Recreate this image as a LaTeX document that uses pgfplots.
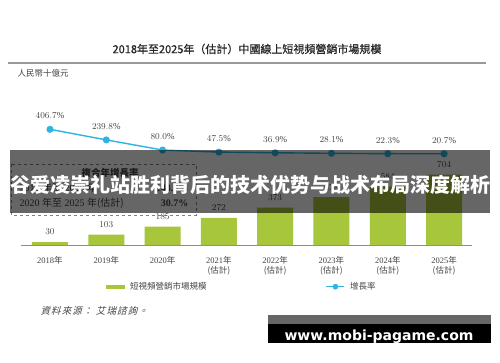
\documentclass[border=0pt]{standalone}
\usepackage{fontspec}
\setmainfont{Liberation Serif}
\newfontfamily\cjk{Noto Sans CJK TC}
\newfontfamily\cjktitle{Noto Sans CJK TC}[FakeBold=0.7]
\newfontfamily\cjksl{Noto Sans CJK TC}[FakeSlant=0.25,LetterSpace=12]
\newfontfamily\cjkban{Noto Sans CJK SC}
\newfontfamily\wm{DejaVu Sans}
\usepackage{pgfplots}
\pgfplotsset{compat=1.18}
\definecolor{bargreen}{HTML}{A8C63B}
\definecolor{lineblue}{HTML}{2CB5E2}
\definecolor{txt}{HTML}{444444}
\begin{document}
\begin{tikzpicture}[x=1pt,y=1pt]
\fill[white] (0,0) rectangle (500,362);
\path[use as bounding box] (0,0) rectangle (500,362);
% title
\node[font=\cjktitle\fontsize{11}{13}\selectfont, text=black!85] at (247,313) {2018年至2025年（估計）中國線上短視頻營銷市場規模};
\draw[line width=2pt, black!40] (8,298.7) -- (486,298.7);
\node[anchor=west, font=\cjk\fontsize{8.5}{10}\selectfont, text=txt] at (14,288.7) {人民幣十億元};
% CAGR box
\draw[dashed, black!50, line width=0.6pt] (11,198) rectangle (196,147);
\node[font=\cjk\bfseries\fontsize{9.5}{11}\selectfont, text=txt] at (110,189) {複合年增長率};
\node[anchor=west, font=\fontsize{10}{11}\selectfont, text=txt] at (16,174) {2018 {\cjk 年至} 2020 {\cjk 年}};
\node[anchor=east, font=\bfseries\fontsize{10}{11}\selectfont, text=txt] at (192,174) {148.3\%};
\node[anchor=west, font=\fontsize{10}{11}\selectfont, text=txt] at (16,159) {2020 {\cjk 年至} 2025 {\cjk 年(估計)}};
\node[anchor=east, font=\bfseries\fontsize{10}{11}\selectfont, text=txt] at (192,159) {30.7\%};
% bars
\begin{axis}[at={(21pt,117pt)}, anchor=south west, scale only axis,
  width=451pt, height=100pt,
  xmin=-0.515, xmax=7.496, ymin=0, ymax=1000,
  axis x line*=bottom, axis y line=none,
  x axis line style={black!45, line width=0.8pt},
  xtick={0,...,7}, ytick=\empty, major tick length=0pt,
  xticklabels={{2018{\cjk 年}},{2019{\cjk 年}},{2020{\cjk 年}},{2021{\cjk 年}\\{\cjk (估計)}},{2022{\cjk 年}\\{\cjk (估計)}},{2023{\cjk 年}\\{\cjk (估計)}},{2024{\cjk 年}\\{\cjk (估計)}},{2025{\cjk 年}\\{\cjk (估計)}}},
  xticklabel style={font=\fontsize{8.5}{10}\selectfont, text=txt, align=center, anchor=north, inner sep=0pt, yshift=-11pt},
  clip=false, bar width=36pt,
  legend columns=2,
  legend style={at={(0.1885,-0.417)}, anchor=west, draw=none, fill=none, inner sep=0pt,
    font=\cjk\fontsize{8.5}{10}\selectfont, text=txt,
    /tikz/column sep=3pt,
    /tikz/every even column/.append style={column sep=117pt}},
]
\addplot[ybar, fill=bargreen, draw=none, point meta=y,
  nodes near coords,
  every node near coord/.append style={font=\fontsize{9}{10}\selectfont, text=txt, inner sep=0pt, anchor=south, yshift=7pt},
  legend image code/.code={\fill[bargreen] (0pt,-2pt) rectangle (19pt,2pt);}]
  coordinates {(0,30) (1,103) (2,185) (3,272) (4,373) (5,478) (6,584) (7,704)};
\addlegendentry{短視頻營銷市場規模}
\addlegendimage{legend image code/.code={\draw[lineblue, line width=1.4pt] (0pt,0pt) -- (18pt,0pt); \fill[lineblue] (9pt,0pt) circle (2.6pt);}}
\addlegendentry{增長率}
\end{axis}
% growth line
\begin{axis}[at={(21pt,206.9pt)}, anchor=south west, scale only axis,
  width=451pt, height=31.7pt,
  xmin=-0.515, xmax=7.496, ymin=0, ymax=500,
  hide axis, clip=false]
\addplot[lineblue, line width=1.4pt, mark=*, mark size=2.8pt, mark options={fill=lineblue, draw=lineblue}, point meta=y,
  nodes near coords={\pgfmathprintnumber[fixed,fixed zerofill,precision=1]{\pgfplotspointmeta}\%},
  every node near coord/.append style={font=\fontsize{9}{10}\selectfont, text=txt, inner sep=0pt, anchor=south, yshift=9.8pt}]
  coordinates {(0,406.7) (1,239.8) (2,80.0) (3,47.5) (4,36.9) (5,28.1) (6,22.3) (7,20.7)};
\end{axis}
% banner overlay
\fill[black, opacity=0.6] (10,212) rectangle (490,149);
\node[text=white, font=\cjkban\bfseries\fontsize{20}{22}\selectfont] at (250,177) {谷爱凌崇礼站胜利背后的技术优势与战术布局深度解析};
% source
\node[anchor=west, font=\cjksl\fontsize{9.5}{11}\selectfont, text=txt] at (37,51) {資料來源：\ 艾瑞諮詢。};
% watermark
\fill[black, opacity=0.6] (268,47) rectangle (491,38);
\fill[black] (268,38) rectangle (491,19);
\node[text=white, font=\wm\bfseries\fontsize{14}{16}\selectfont] at (379,25.5) {www.mobi-pagame.com};
\end{tikzpicture}
\end{document}
